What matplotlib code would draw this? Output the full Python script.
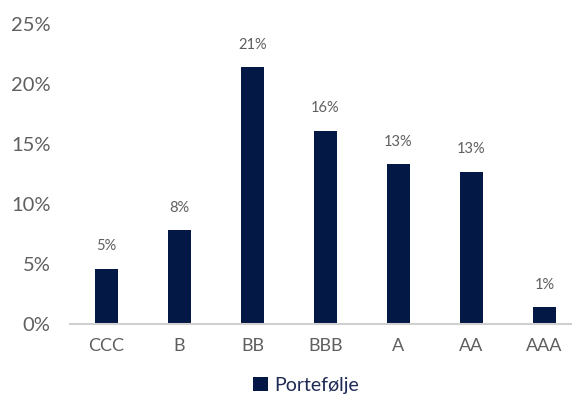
import numpy as np
import matplotlib.pyplot as plt
from matplotlib.ticker import FuncFormatter

ratings = ["CCC", "B", "BB", "BBB", "A", "AA", "AAA"]
shares = [4.6, 7.8, 21.4, 16.1, 13.3, 12.7, 1.4]   # percent
labels = ["5%", "8%", "21%", "16%", "13%", "13%", "1%"]
series_name = "Portefølje"


def main():
    plt.rcParams['font.family'] = ['Lato', 'DejaVu Sans']
    navy = '#031845'
    grey = '#5f5f5f'

    fig = plt.figure(figsize=(5.72, 4.05), dpi=100)
    ax = fig.add_axes([0.1224, 0.2, 0.893, 0.741])

    x = np.arange(len(ratings))
    bars = ax.bar(x, shares, width=0.31, color=navy, label=series_name)

    for rect, lab in zip(bars, labels):
        ax.text(rect.get_x() + rect.get_width() / 2, rect.get_height() + 1.3, lab,
                ha='center', va='bottom', fontsize=10.5, color=grey)

    ax.set_xlim(-0.5, len(ratings) - 0.5)
    ax.set_ylim(0, 25)
    ax.set_yticks(np.arange(0, 26, 5))
    ax.yaxis.set_major_formatter(FuncFormatter(lambda v, p: f"{v:.0f}%"))
    ax.set_xticks(x)
    ax.set_xticklabels(ratings)
    ax.tick_params(axis='both', length=0, colors=grey)
    ax.tick_params(axis='y', labelsize=14.5, pad=14)
    ax.tick_params(axis='x', labelsize=13, pad=10)

    for s in ['top', 'right', 'left']:
        ax.spines[s].set_visible(False)
    ax.spines['bottom'].set_color('#d0d0d0')
    ax.spines['bottom'].set_linewidth(1.5)

    leg = fig.legend(loc='lower center', bbox_to_anchor=(0.535, -0.015), frameon=False,
                     fontsize=14, handlelength=0.75, handleheight=0.75, handletextpad=0.3)
    for t in leg.get_texts():
        t.set_color('#1f2a55')

    fig.savefig('out.png', dpi=100)


if __name__ == "__main__":
    main()
